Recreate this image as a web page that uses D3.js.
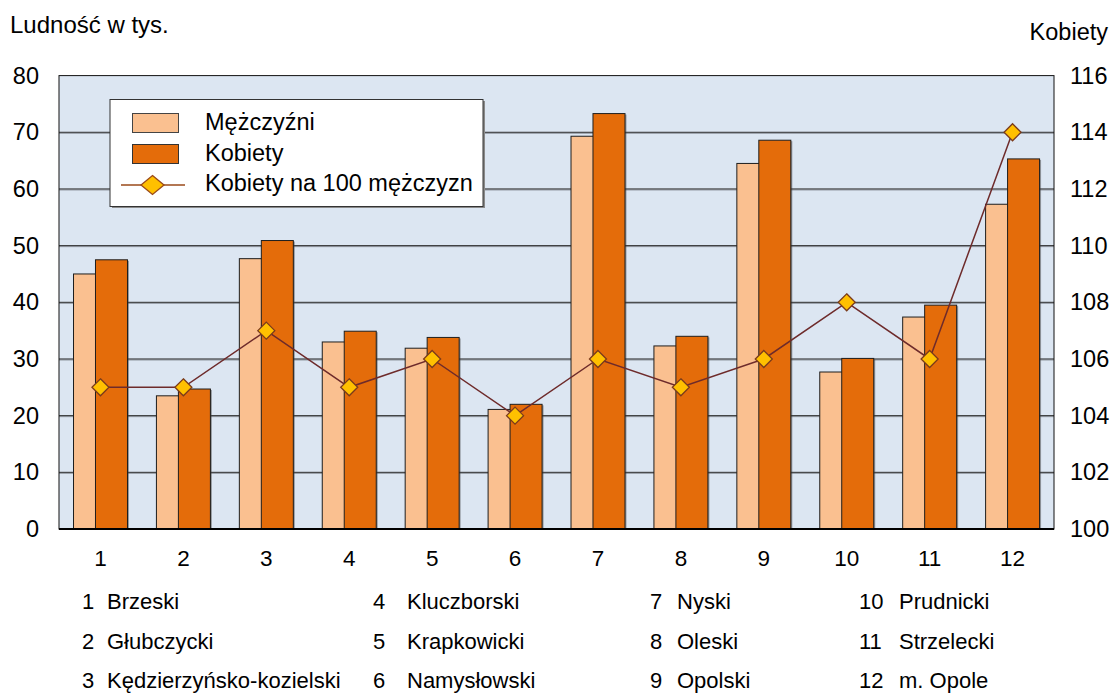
<!DOCTYPE html>
<html>
<head>
<meta charset="utf-8">
<script src="https://cdn.jsdelivr.net/npm/d3@7"></script>
<style>
  body { margin: 0; background: #fff; }
  text { font-family: Arial, "Liberation Sans", sans-serif; fill: #000; }
</style>
</head>
<body>
<div id="vis"></div>
<script>
// data
const categories = ["1", "2", "3", "4", "5", "6", "7", "8", "9", "10", "11", "12"];
const men = [45.0, 23.5, 47.7, 33.0, 31.9, 21.1, 69.3, 32.3, 64.5, 27.7, 37.4, 57.3];
const women = [47.5, 24.7, 50.9, 34.9, 33.8, 22.0, 73.3, 34.0, 68.6, 30.1, 39.5, 65.3];
const ratio = [105, 105, 107, 105, 106, 104, 106, 105, 106, 108, 106, 114];
const leftTicks = [0, 10, 20, 30, 40, 50, 60, 70, 80];
const rightTicks = [100, 102, 104, 106, 108, 110, 112, 114, 116];
const districts = ["Brzeski", "Głubczycki", "Kędzierzyńsko-kozielski", "Kluczborski", "Krapkowicki",
  "Namysłowski", "Nyski", "Oleski", "Opolski", "Prudnicki", "Strzelecki", "m. Opole"];
const seriesNames = ["Mężczyźni", "Kobiety", "Kobiety na 100 mężczyzn"];

const W = 1117, H = 694;
const plot = { left: 59, right: 1054, top: 75.6, bottom: 529 };

const svg = d3.select("#vis")
  .append("svg")
    .attr("width", W)
    .attr("height", H);

// scales
const x = d3.scaleBand()
    .domain(categories)
    .range([plot.left, plot.right])
    .padding(0);
const y = d3.scaleLinear().domain([0, 80]).range([plot.bottom, plot.top]);
const y2 = d3.scaleLinear().domain([100, 116]).range([plot.bottom, plot.top]);

const bw = x.bandwidth();
const barW = bw * 0.386;
const menOff = -bw * 0.325;
const womenOff = menOff + bw * 0.265;
const cx = d => x(d) + bw / 2;

// plot background
svg.append("rect")
    .attr("x", plot.left).attr("y", plot.top)
    .attr("width", plot.right - plot.left).attr("height", plot.bottom - plot.top)
    .attr("fill", "#dce6f2");

// gridlines
const grid = svg.append("g");
grid.selectAll("line.g1")
  .data(leftTicks.slice(1, -1))
  .join("line")
    .attr("class", "g1")
    .attr("x1", plot.left).attr("x2", plot.right)
    .attr("y1", d => y(d) + 1).attr("y2", d => y(d) + 1)
    .attr("stroke", "#8d939c").attr("stroke-width", 1);
grid.selectAll("line.g0")
  .data(leftTicks.slice(1, -1))
  .join("line")
    .attr("class", "g0")
    .attr("x1", plot.left).attr("x2", plot.right)
    .attr("y1", d => y(d)).attr("y2", d => y(d))
    .attr("stroke", "#2b2b2b").attr("stroke-width", 1);

// bars
const bars = svg.append("g");
function drawBars(values, off, fill) {
  const data = categories.map((c, i) => ({ c, v: values[i] }));
  // soft shadow
  bars.append("g").selectAll("rect")
    .data(data)
    .join("rect")
      .attr("x", d => cx(d.c) + off + 1.5)
      .attr("y", d => y(d.v) + 1)
      .attr("width", barW)
      .attr("height", d => y(0) - y(d.v) - 1)
      .attr("fill", "rgba(60,60,60,0.45)");
  bars.append("g").selectAll("rect")
    .data(data)
    .join("rect")
      .attr("x", d => cx(d.c) + off)
      .attr("y", d => y(d.v))
      .attr("width", barW)
      .attr("height", d => y(0) - y(d.v))
      .attr("fill", fill)
      .attr("stroke", "#1e1e1e")
      .attr("stroke-width", 1);
}
drawBars(men, menOff, "#fac090");
drawBars(women, womenOff, "#e46c0a");

// line with diamonds
const line = d3.line()
    .x((d, i) => cx(categories[i]))
    .y(d => y2(d));
svg.append("path")
    .datum(ratio)
    .attr("d", line)
    .attr("fill", "none")
    .attr("stroke", "#6e2b2b")
    .attr("stroke-width", 1.5);

const diamond = (s) => `M0,${-s}L${s},0L0,${s}L${-s},0Z`;
svg.append("g").selectAll("path")
  .data(ratio)
  .join("path")
    .attr("transform", (d, i) => `translate(${cx(categories[i])},${y2(d)})`)
    .attr("d", diamond(8.5))
    .attr("fill", "#ffc000")
    .attr("stroke", "#7a3b1c")
    .attr("stroke-width", 1.3);

// frame
svg.append("rect")
    .attr("x", plot.left).attr("y", plot.top)
    .attr("width", plot.right - plot.left).attr("height", plot.bottom - plot.top)
    .attr("fill", "none")
    .attr("stroke", "#111")
    .attr("stroke-width", 1);
svg.append("line")
    .attr("x1", plot.left).attr("x2", plot.right)
    .attr("y1", plot.bottom).attr("y2", plot.bottom)
    .attr("stroke", "#000").attr("stroke-width", 2);

// axes
const fs = 22, tfs = 23.5;
const leftAxis = svg.append("g")
    .attr("transform", `translate(${plot.left},0)`)
    .call(d3.axisLeft(y).tickValues(leftTicks).tickSize(0).tickPadding(20));
leftAxis.select(".domain").remove();
leftAxis.selectAll("text")
    .attr("font-size", tfs)
    .attr("font-family", "Arial, 'Liberation Sans', sans-serif")
    .attr("fill", "#000");

const rightAxis = svg.append("g")
    .attr("transform", `translate(${plot.right},0)`)
    .call(d3.axisRight(y2).tickValues(rightTicks).tickSize(0).tickPadding(16));
rightAxis.select(".domain").remove();
rightAxis.selectAll("text")
    .attr("font-size", tfs)
    .attr("font-family", "Arial, 'Liberation Sans', sans-serif")
    .attr("fill", "#000");

const bottomAxis = svg.append("g")
    .attr("transform", `translate(0,${plot.bottom})`)
    .call(d3.axisBottom(x).tickSize(0).tickPadding(21));
bottomAxis.select(".domain").remove();
bottomAxis.selectAll("text")
    .attr("font-size", 22.5)
    .attr("font-family", "Arial, 'Liberation Sans', sans-serif")
    .attr("fill", "#000");

// axis titles
svg.append("text")
    .attr("x", 10).attr("y", 33)
    .attr("font-size", 24)
    .text("Ludność w tys.");
svg.append("text")
    .attr("x", 1108).attr("y", 40)
    .attr("text-anchor", "end")
    .attr("font-size", 23.5)
    .text("Kobiety");

// legend
const lg = svg.append("g");
lg.append("rect")
    .attr("x", 112).attr("y", 101)
    .attr("width", 373).attr("height", 107)
    .attr("fill", "#8a8a8a");
lg.append("rect")
    .attr("x", 110).attr("y", 99.5)
    .attr("width", 373).attr("height", 107)
    .attr("fill", "#fff")
    .attr("stroke", "#333")
    .attr("stroke-width", 1);
lg.append("rect")
    .attr("x", 132.5).attr("y", 113.5).attr("width", 46).attr("height", 19)
    .attr("fill", "#fac090").attr("stroke", "#444");
lg.append("rect")
    .attr("x", 132.5).attr("y", 144.5).attr("width", 46).attr("height", 19)
    .attr("fill", "#e46c0a").attr("stroke", "#333");
lg.append("line")
    .attr("x1", 121).attr("x2", 185).attr("y1", 185).attr("y2", 185)
    .attr("stroke", "#9a4a1a").attr("stroke-width", 1.5);
lg.append("path")
    .attr("transform", "translate(152.5,185)")
    .attr("d", "M0,-9.5L11.5,0L0,9.5L-11.5,0Z")
    .attr("fill", "#ffc000")
    .attr("stroke", "#9a4a1a")
    .attr("stroke-width", 1.3);
lg.selectAll("text")
  .data(seriesNames)
  .join("text")
    .attr("x", 205)
    .attr("y", (d, i) => [129.5, 161, 190.5][i])
    .attr("font-size", 23.5)
    .text(d => d);

// district key under the chart
const colX = [82, 373, 650, 859];
const nameX = [107, 407, 677, 899];
const rowY = [609, 649, 688];
const key = svg.append("g");
districts.forEach((name, i) => {
  const col = Math.floor(i / 3), row = i % 3;
  key.append("text")
      .attr("x", colX[col]).attr("y", rowY[row])
      .attr("font-size", fs)
      .text(categories[i]);
  key.append("text")
      .attr("x", nameX[col]).attr("y", rowY[row])
      .attr("font-size", fs)
      .text(name);
});
</script>
</body>
</html>
